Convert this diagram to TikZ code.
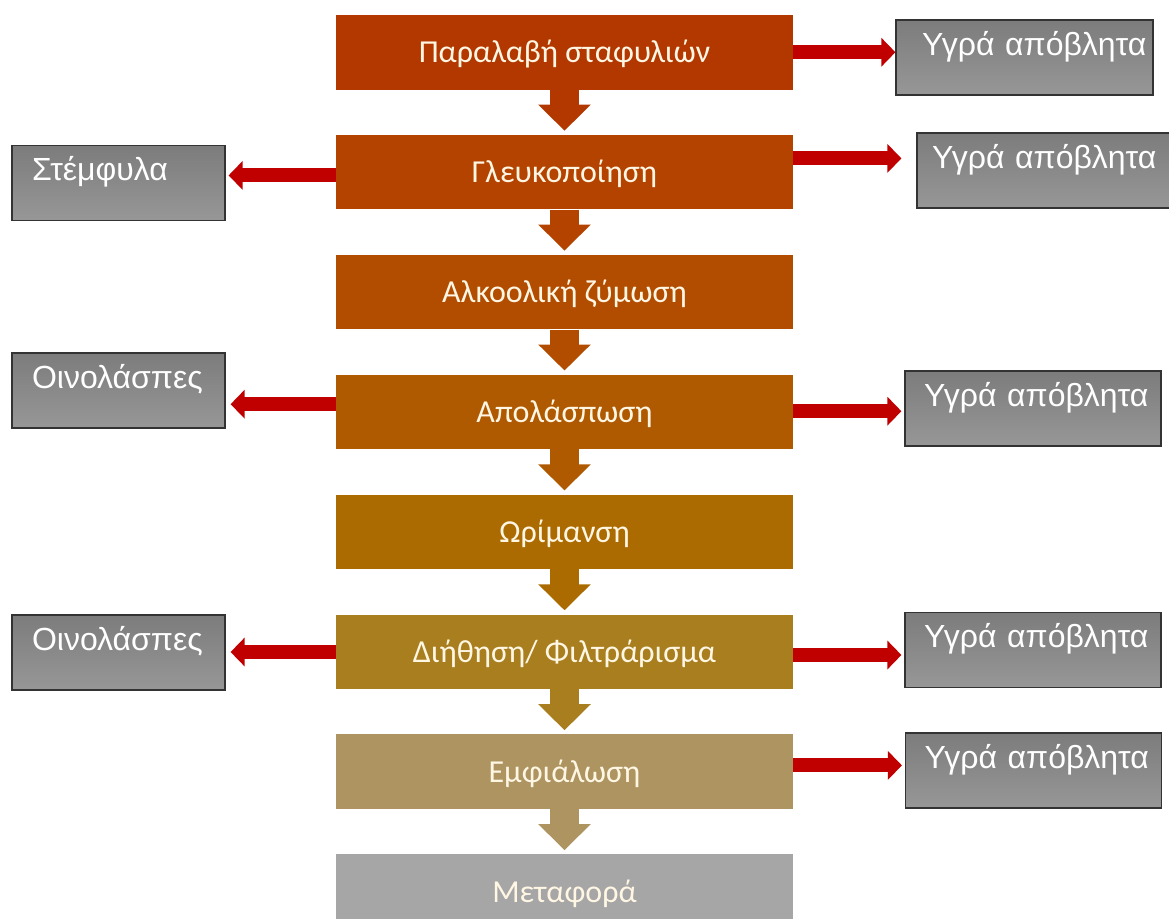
\documentclass[tikz,border=0pt]{standalone}
\usepackage{fontspec}
\setmainfont{Carlito}
\newfontfamily\wastefont{Liberation Sans}
\usetikzlibrary{positioning,arrows.meta}
\definecolor{stageA}{HTML}{B23800}
\definecolor{stageB}{HTML}{B44300}
\definecolor{stageC}{HTML}{B24D00}
\definecolor{stageD}{HTML}{AF5900}
\definecolor{stageE}{HTML}{AB6B00}
\definecolor{stageF}{HTML}{A87E1E}
\definecolor{stageG}{HTML}{AD9460}
\definecolor{stageH}{HTML}{A6A6A6}
\definecolor{stagetext}{HTML}{FFF6E4}
\definecolor{wastered}{HTML}{C00000}
\definecolor{wastetop}{HTML}{7C7C7C}
\definecolor{wastebot}{HTML}{979797}
\tikzset{
  stage/.style={fill=#1, minimum width=457pt, minimum height=74.5pt, inner sep=0pt,
    text height=21pt, text depth=0pt, text=stagetext, font=\fontsize{32}{32}\selectfont},
  flow/.style={draw=#1, line width=29pt, -{Triangle[width=51pt,length=26pt]}, shorten >=4pt},
  waste/.style={draw=black!80, line width=1.2pt, top color=wastetop, bottom color=wastebot,
    text width=#1, align=left, inner xsep=19pt, inner ysep=0pt, text height=35pt, text depth=40pt,
    text=white, font=\wastefont\fontsize{32}{32}\selectfont},
  wasteflow/.style={draw=wastered, line width=14pt, -{Triangle[width=28pt,length=14pt]}}
}
\begin{document}
\begin{tikzpicture}[x=1pt,y=-1pt]
	\useasboundingbox (0,0) rectangle (1169,918);
	% main column
	\node[stage=stageA] (b1) at (564.5,52.25) {Παραλαβή σταφυλιών};
	\node[stage=stageB, below=45pt of b1] (b2) {Γλευκοποίηση};
	\node[stage=stageC, below=45pt of b2] (b3) {Αλκοολική ζύμωση};
	\node[stage=stageD, below=45pt of b3] (b4) {Απολάσπωση};
	\node[stage=stageE, below=45pt of b4] (b5) {Ωρίμανση};
	\node[stage=stageF, below=45pt of b5] (b6) {Διήθηση/ Φιλτράρισμα};
	\node[stage=stageG, below=45pt of b6] (b7) {Εμφιάλωση};
	\node[stage=stageH, below=45pt of b7] (b8) {Μεταφορά};
	%
	\draw[flow=stageA] (b1.south) -- (b2.north);
	\draw[flow=stageB] (b2.south) -- (b3.north);
	\draw[flow=stageC] (b3.south) -- (b4.north);
	\draw[flow=stageD] (b4.south) -- (b5.north);
	\draw[flow=stageE] (b5.south) -- (b6.north);
	\draw[flow=stageF] (b6.south) -- (b7.north);
	\draw[flow=stageG] (b7.south) -- (b8.north);
	% waste, right
	\node[waste=205pt, minimum width=257pt, inner xsep=26pt] (r1) at (1024.5,57.5) {Υγρά~απόβλητα};
	\node[waste=226pt, minimum width=256pt, inner xsep=15pt] (r2) at (1045,170.5) {Υγρά~απόβλητα};
	\node[waste=218pt, minimum width=256pt] (r4) at (1033,408.5) {Υγρά~απόβλητα};
	\node[waste=218pt, minimum width=256pt] (r6) at (1033,650) {Υγρά~απόβλητα};
	\node[waste=218pt, minimum width=256pt] (r7) at (1033.5,770.5) {Υγρά~απόβλητα};
	% waste, left
	\node[waste=173pt, minimum width=213pt, inner xsep=20pt] (l2) at (118.5,183) {Στέμφυλα};
	\node[waste=173pt, minimum width=213pt, inner xsep=20pt] (l4) at (118.5,390.5) {Οινολάσπες};
	\node[waste=173pt, minimum width=213pt, inner xsep=20pt] (l6) at (118.5,652.5) {Οινολάσπες};
	% red arrows
	\draw[wasteflow] (b1.east) coordinate (w1) -- (w1 -| r1.west);
	\draw[wasteflow, shorten >=15pt] ([yshift=13.75pt]b2.east) coordinate (w2) -- (w2 -| r2.west);
	\draw[wasteflow, shorten >=3pt] ([yshift=-3.25pt]b2.west) coordinate (w3) -- (w3 -| l2.east);
	\draw[wasteflow, shorten >=5pt] ([yshift=7.75pt]b4.west) coordinate (w4) -- (w4 -| l4.east);
	\draw[wasteflow, shorten >=3pt] ([yshift=0.75pt]b4.east) coordinate (w5) -- (w5 -| r4.west);
	\draw[wasteflow, shorten >=5pt] ([yshift=-0.25pt]b6.west) coordinate (w6) -- (w6 -| l6.east);
	\draw[wasteflow, shorten >=3pt] ([yshift=-3.25pt]b6.east) coordinate (w7) -- (w7 -| r6.west);
	\draw[wasteflow, shorten >=3pt] ([yshift=6.25pt]b7.east) coordinate (w8) -- (w8 -| r7.west);
\end{tikzpicture}
\end{document}
